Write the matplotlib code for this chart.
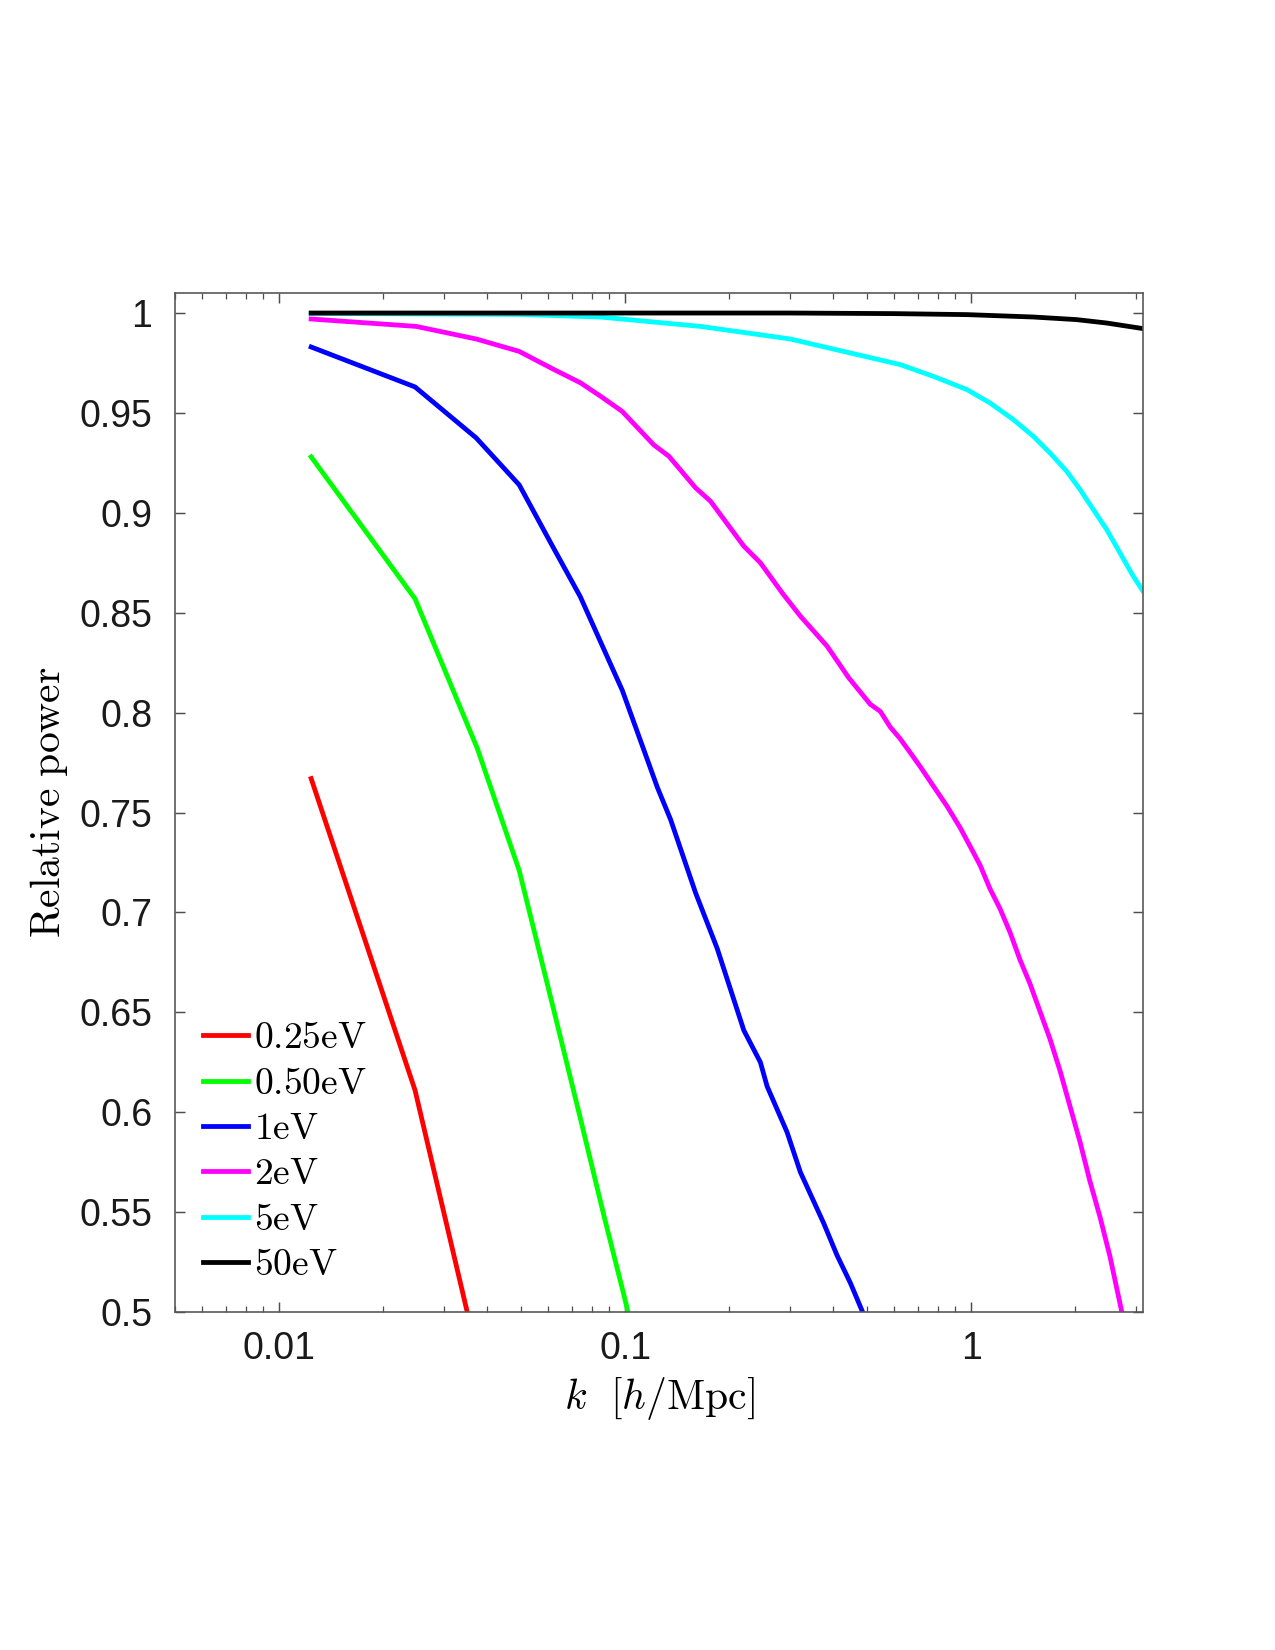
import numpy as np
import matplotlib
matplotlib.use("Agg")
import matplotlib.pyplot as plt
from matplotlib.ticker import FixedLocator, FixedFormatter, LogLocator, NullFormatter

plt.rcParams['mathtext.fontset'] = 'cm'
plt.rcParams['font.family'] = ['Liberation Sans', 'DejaVu Sans']

# relative power vs k
k_025 = [0.01237, 0.0247, 0.0371]
p_025 = [0.767, 0.611, 0.481]

k_050 = [0.01237, 0.0247, 0.0374, 0.0494, 0.0618, 0.0742, 0.0866, 0.099, 0.1113]
p_050 = [0.928, 0.857, 0.782, 0.721, 0.653, 0.597, 0.549, 0.509, 0.473]

k_1 = [0.01237, 0.0247, 0.0371, 0.0494, 0.0618, 0.0742, 0.0982, 0.1239, 0.1353,
       0.1598, 0.1845, 0.2203, 0.246, 0.2572, 0.2938, 0.321, 0.3748, 0.4097,
       0.4474, 0.4836, 0.53]
p_1 = [0.983, 0.963, 0.9375, 0.914, 0.883, 0.858, 0.811, 0.7626, 0.7465,
       0.7098, 0.682, 0.641, 0.625, 0.613, 0.590, 0.570, 0.5445, 0.5284,
       0.5147, 0.5008, 0.485]

k_2 = [0.01237, 0.0249, 0.0371, 0.0494, 0.0618, 0.0744, 0.085, 0.098, 0.121,
       0.1338, 0.1598, 0.1765, 0.2203, 0.246, 0.2842, 0.321, 0.3833, 0.4426,
       0.511, 0.5465, 0.5837, 0.6237, 0.6668, 0.7126, 0.778, 0.851, 0.9297,
       1.0046, 1.062, 1.134, 1.2126, 1.296, 1.385, 1.48, 1.582, 1.69, 1.807,
       1.931, 2.064, 2.205, 2.357, 2.519, 2.722, 3.14]
p_2 = [0.997, 0.9933, 0.987, 0.9808, 0.972, 0.965, 0.9583, 0.9508, 0.934,
       0.9283, 0.9125, 0.9058, 0.8833, 0.875, 0.86, 0.8483, 0.8333, 0.8175,
       0.8042, 0.8006, 0.7928, 0.7869, 0.78, 0.773, 0.7632, 0.7533, 0.7424,
       0.7315, 0.7236, 0.7118, 0.7018, 0.69, 0.6762, 0.6643, 0.6504, 0.6367, 0.6208,
       0.603, 0.5852, 0.5655, 0.5477, 0.5279, 0.5006, 0.46]

k_5 = [0.01237, 0.0494, 0.0848, 0.1652, 0.3003, 0.4474, 0.6237, 0.778, 0.972,
       1.134, 1.324, 1.513, 1.69, 1.889, 2.064, 2.254, 2.464, 2.692, 2.942, 3.14]
p_5 = [0.9998, 0.9993, 0.998, 0.9933, 0.987, 0.98, 0.9742, 0.9683, 0.9617,
       0.955, 0.9467, 0.9383, 0.93, 0.9208, 0.9117, 0.9017, 0.8917, 0.88, 0.8683, 0.8608]

k_50 = [0.01237, 0.3, 0.6, 0.972, 1.514, 2.018, 2.464, 3.14]
p_50 = [1.0, 1.0, 0.9997, 0.9992, 0.998, 0.9967, 0.995, 0.9922]

labels = ['0.25eV', '0.50eV', '1eV', '2eV', '5eV', '50eV']
colors = ['#ff0000', '#00ff00', '#0000ff', '#ff00ff', '#00ffff', '#000000']

yticks = [0.5, 0.55, 0.6, 0.65, 0.7, 0.75, 0.8, 0.85, 0.9, 0.95, 1.0]
xticks = [0.01, 0.1, 1]


def main():
    fig = plt.figure(figsize=(8.5, 11), dpi=150)
    ax = fig.add_axes([0.1373, 0.2048, 0.7592, 0.6176])

    series = [(k_025, p_025), (k_050, p_050), (k_1, p_1),
              (k_2, p_2), (k_5, p_5), (k_50, p_50)]
    for (k, p), lab, c in zip(series, labels, colors):
        ax.plot(k, p, color=c, lw=2.3, label=r'$\mathrm{%s}$' % lab)

    ax.set_xscale('log')
    ax.set_xlim(0.005, 3.14)
    ax.set_ylim(0.5, 1.01)

    ax.xaxis.set_major_locator(FixedLocator(xticks))
    ax.xaxis.set_major_formatter(FixedFormatter(['%g' % t for t in xticks]))
    ax.xaxis.set_minor_locator(LogLocator(base=10, subs=np.arange(2, 10)))
    ax.xaxis.set_minor_formatter(NullFormatter())
    ax.yaxis.set_major_locator(FixedLocator(yticks))
    ax.yaxis.set_major_formatter(FixedFormatter(['%g' % t for t in yticks]))

    ax.tick_params(which='both', direction='in', top=True, right=True,
                   color='0.3', labelsize=18, labelcolor='0.1')
    ax.tick_params(which='major', length=5, width=0.7)
    ax.tick_params(which='minor', length=3, width=0.6)
    ax.tick_params(axis='y', pad=11)
    ax.tick_params(axis='x', pad=9)
    for s in ax.spines.values():
        s.set_color('0.35')
        s.set_linewidth(0.8)

    ax.set_xlabel(r'$k\ \ [h/\mathrm{Mpc}]$', fontsize=20, labelpad=4)
    ax.set_ylabel(r'$\mathrm{Relative\ power}$', fontsize=20, labelpad=4.5)

    ax.legend(loc='lower left', bbox_to_anchor=(0.01, 0.01), frameon=False,
              fontsize=18, handlelength=1.2, handletextpad=0.15,
              labelspacing=0.25, borderaxespad=0.1)

    fig.savefig('out.png', dpi=150)


if __name__ == "__main__":
    main()
